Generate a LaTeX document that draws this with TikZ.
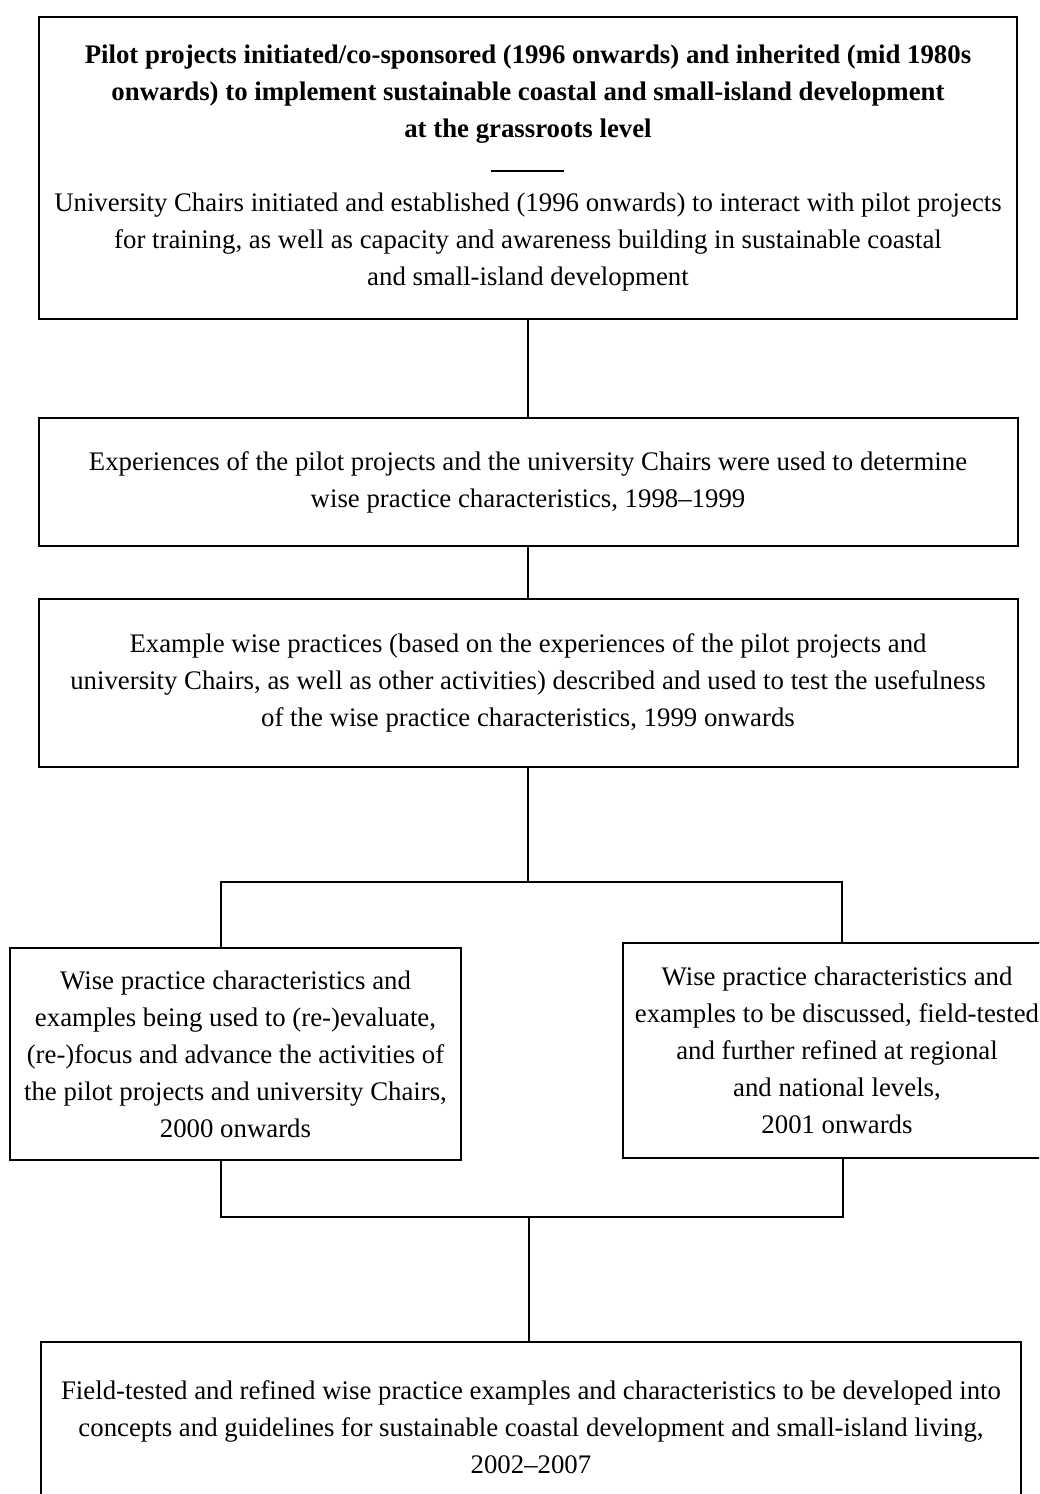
\documentclass[tikz,border=0pt]{standalone}
\usepackage{fontspec}
\setmainfont{Liberation Serif}
\usetikzlibrary{positioning,calc}

\begin{document}
\begin{tikzpicture}[
  x=0.5pt, y=-0.5pt,
  every node/.style={font=\fontsize{13.4}{18.5}\selectfont},
  stage/.style={draw, line width=1pt, align=center, inner sep=0pt},
  link/.style={line width=0.8pt}
]
  \useasboundingbox (0,0) rectangle (1039,1494);
  \clip (0,0) rectangle (1039,1494);

  % --- Stages ---
  \node[stage, minimum width=489pt, minimum height=151pt] (pilot) at (528,168)
    {\textbf{Pilot projects initiated/co-sponsored (1996 onwards) and inherited (mid 1980s}\\
     \textbf{onwards) to implement sustainable coastal and small-island development}\\
     \textbf{at the grassroots level}\\
     \rule[1pt]{36.5pt}{1pt}\\
     University Chairs initiated and established (1996 onwards) to interact with pilot projects\\
     for training, as well as capacity and awareness building in sustainable coastal\\
     and small-island development};

  \node[stage, minimum width=489.5pt, minimum height=64pt] (exper) at (528,482)
    {Experiences of the pilot projects and the university Chairs were used to determine\\
     wise practice characteristics, 1998--1999};

  \node[stage, minimum width=489.5pt, minimum height=84pt] (examples) at (528,683)
    {Example wise practices (based on the experiences of the pilot projects and\\
     university Chairs, as well as other activities) described and used to test the usefulness\\
     of the wise practice characteristics, 1999 onwards};

  \node[stage, minimum width=225.5pt, minimum height=106pt] (usage) at (235.5,1054)
    {Wise practice characteristics and\\
     examples being used to (re-)evaluate,\\
     (re-)focus and advance the activities of\\
     the pilot projects and university Chairs,\\
     2000 onwards};

  \node[stage, minimum width=214pt, minimum height=107.5pt] (fieldtest) at (837,1050.5)
    {Wise practice characteristics and\\
     examples to be discussed, field-tested\\
     and further refined at regional\\
     and national levels,\\
     2001 onwards};

  \node[stage, minimum width=490pt, minimum height=85pt] (concepts) at (531,1427)
    {Field-tested and refined wise practice examples and characteristics to be developed into\\
     concepts and guidelines for sustainable coastal development and small-island living,\\
     2002--2007};

  % --- Branch points ---
  \coordinate (split) at (528,882);
  \coordinate (splitL) at (221,882);
  \coordinate (splitR) at (842,882);
  \coordinate (join) at (529,1217);
  \coordinate (joinL) at (221,1217);
  \coordinate (joinR) at (843,1217);

  % --- Connectors ---
  \draw[link] (pilot.south) -- (exper.north);
  \draw[link] (exper.south) -- (examples.north);
  \draw[link] (examples.south) -- (split);
  \draw[link] (usage.north -| splitL) -- (splitL) -- (splitR) -- (fieldtest.north -| splitR);
  \draw[link] (usage.south -| joinL) -- (joinL) -- (joinR) -- (fieldtest.south -| joinR);
  \draw[link] (join) -- (concepts.north -| join);

\end{tikzpicture}
\end{document}
